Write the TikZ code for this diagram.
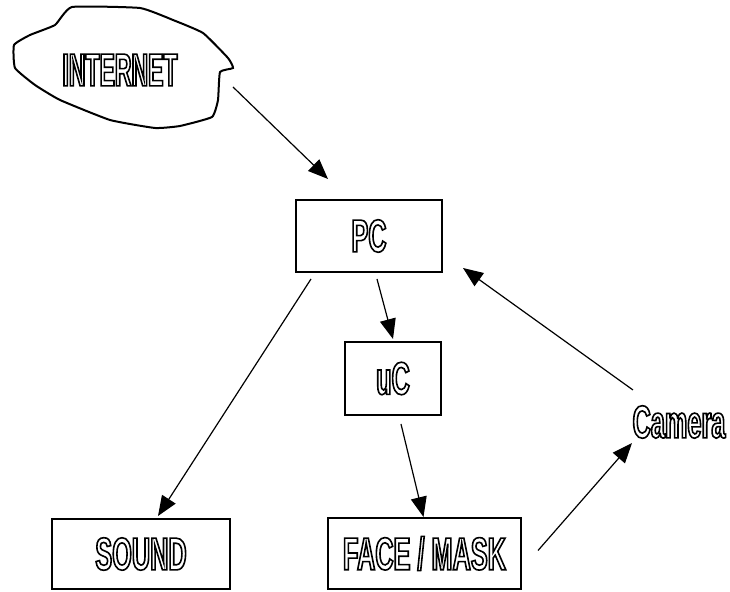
\documentclass[tikz,border=0pt]{standalone}
\usepackage{fontspec}
\usepackage{tikz}
\usetikzlibrary{arrows.meta}
\newfontfamily\blockfont[FakeStretch=0.55]{Liberation Sans}
\newfontfamily\narrowfont[FakeStretch=0.5]{Liberation Sans}
\newcommand{\hollow}[1]{\special{pdf:literal direct 1 Tr 0.8 w}#1\special{pdf:literal direct 0 Tr}}
\tikzset{
  box/.style={draw, line width=1pt, inner sep=0pt},
  lbl/.style={font=\blockfont\bfseries\fontsize{23}{26}\selectfont, inner sep=0pt},
  arr/.style={-{Triangle[length=10pt,width=8pt]}, line width=0.6pt}
}
\begin{document}
\begin{tikzpicture}[x=0.5pt, y=-0.5pt]
                \useasboundingbox (0,0) rectangle (730,592);
                \draw[line width=1pt] plot[smooth cycle, tension=0.25] coordinates {(72,7) (140,8) (173,20) (203,33) (228,58) (233,68) (220,72) (218,100) (212,117) (180,126) (155,128) (110,120) (60,100) (35,85) (15,68) (14,45) (30,35) (55,25)};
                \node[lbl, font=\narrowfont\bfseries\fontsize{23}{26}\selectfont] (internet) at (120,70) {\hollow{INTERNET}};
                \node[box, lbl, minimum width=73pt, minimum height=36pt] (pc) at (369,236) {\hollow{PC}};
                \node[box, lbl, minimum width=48pt, minimum height=36.5pt] (uc) at (393,378.5) {\hollow{uC}};
                \node[box, lbl, minimum width=89pt, minimum height=35pt] (sound) at (141,554) {\hollow{SOUND}};
                \node[box, lbl, minimum width=96.5pt, minimum height=35.5pt] (face) at (424.5,553.5) {\hollow{FACE / MASK}};
                \node[lbl] (camera) at (679,422) {\hollow{Camera}};
                \draw[arr] ([shift={(113,17)}]internet.center) -- ([shift={(-41,-20)}]pc.north);
                \draw[arr] ([shift={(8,6)}]pc.south) -- ([shift={(0,-2)}]uc.north);
                \draw[arr] ([shift={(16,6)}]pc.south west) -- ([shift={(17,-2)}]sound.north);
                \draw[arr] ([shift={(8,8)}]uc.south) -- ([shift={(-1,0)}]face.north);
                \draw[arr] ([shift={(16,-3)}]face.east) -- ([shift={(-47,21)}]camera.center);
                \draw[arr] ([shift={(-46,-32)}]camera.center) -- ([shift={(20,-5)}]pc.south east);
            \end{tikzpicture}
\end{document}
